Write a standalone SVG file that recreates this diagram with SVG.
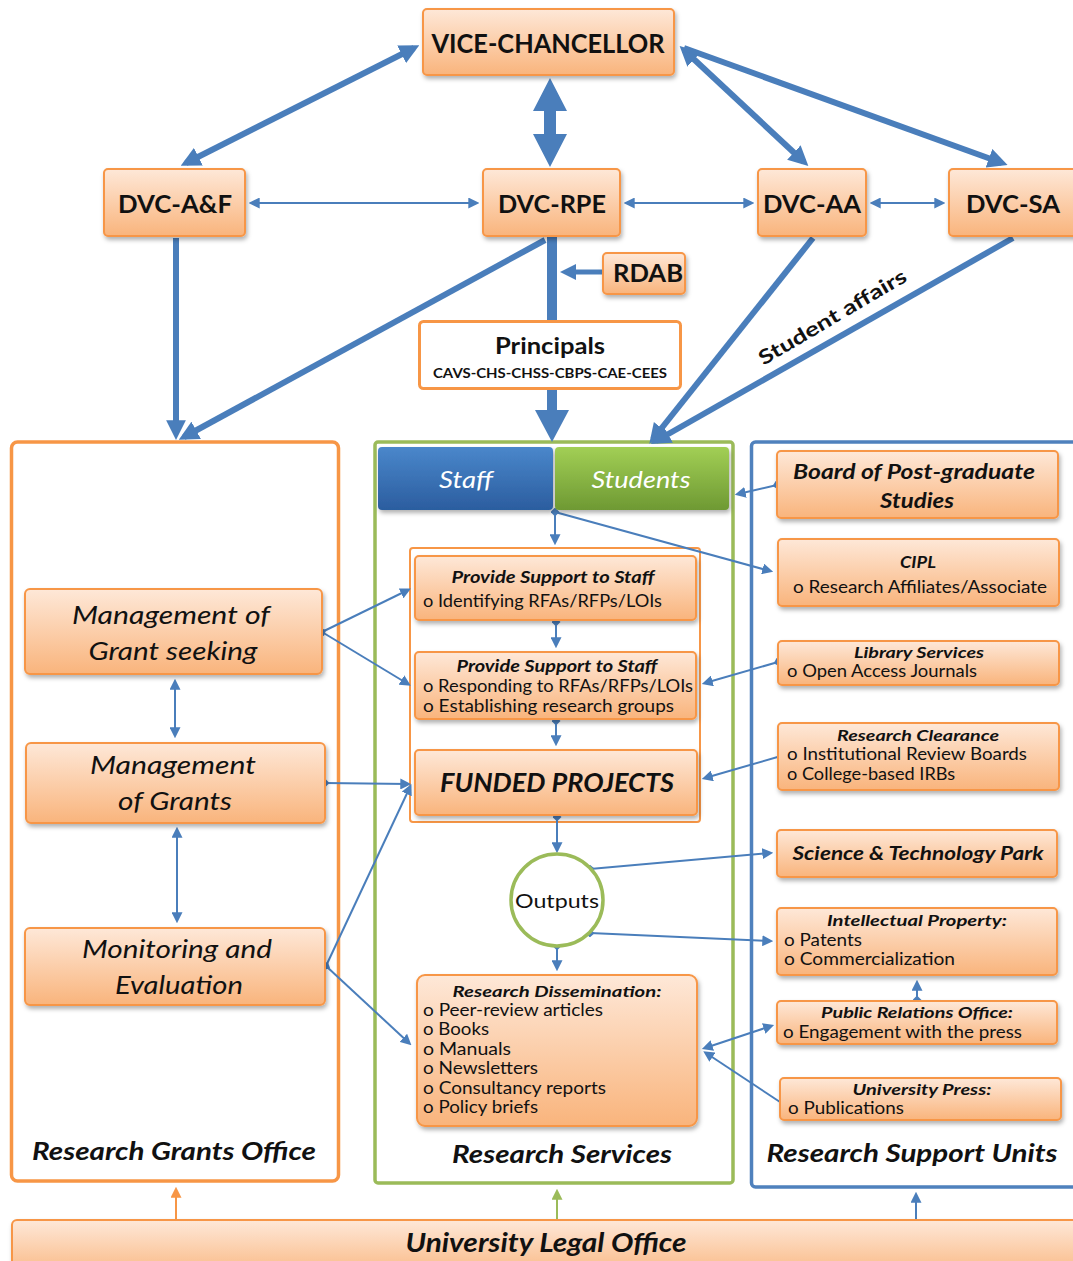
<svg xmlns="http://www.w3.org/2000/svg" width="1073" height="1261" viewBox="0 0 1073 1261">
<defs>
<style>
text{font-family:Lato,"Open Sans","Liberation Sans",sans-serif;fill:#111}
.nd{fill:url(#og);stroke:#f79646;stroke-width:2;filter:url(#sh)}
.b{font-weight:bold}
.bi{font-weight:bold;font-style:italic}
.i{font-style:italic}
.c{text-anchor:middle}
.tk{stroke:#4a7ebb;stroke-width:6;fill:none}
.tn{stroke:#4a7ebb;stroke-width:2;fill:none}
.ar{marker-end:url(#a)}
.ar2{marker-end:url(#a);marker-start:url(#a)}
.at{marker-end:url(#aT)}
.at2{marker-end:url(#aT);marker-start:url(#aT)}
.dm{marker-start:url(#d)}
</style>
<linearGradient id="og" x1="0" y1="0" x2="0" y2="1"><stop offset="0" stop-color="#fee8d8"/><stop offset="1" stop-color="#f9b47c"/></linearGradient>
<linearGradient id="bg" x1="0" y1="0" x2="0" y2="1"><stop offset="0" stop-color="#4a87cb"/><stop offset="1" stop-color="#2b5d9f"/></linearGradient>
<linearGradient id="gg" x1="0" y1="0" x2="0" y2="1"><stop offset="0" stop-color="#a2cf55"/><stop offset="1" stop-color="#6e9933"/></linearGradient>
<filter id="sh" x="-10%" y="-10%" width="120%" height="130%"><feDropShadow dx="1.5" dy="3" stdDeviation="2" flood-color="#000" flood-opacity="0.3"/></filter>
<marker id="a" viewBox="0 0 10 10" refX="7" refY="5" markerWidth="5.5" markerHeight="5.5" orient="auto-start-reverse" markerUnits="strokeWidth"><path d="M0,0 L10,5 L0,10 z" fill="#4a7ebb"/></marker>
<marker id="aT" viewBox="0 0 10 10" refX="7" refY="5" markerWidth="3.3" markerHeight="3.3" orient="auto-start-reverse" markerUnits="strokeWidth"><path d="M0,0 L10,5 L0,10 z" fill="#4a7ebb"/></marker>
<marker id="d" viewBox="0 0 10 10" refX="5" refY="5" markerWidth="4.5" markerHeight="4.5" orient="auto" markerUnits="strokeWidth"><path d="M5,0 L10,5 L5,10 L0,5 z" fill="#4a7ebb"/></marker>
<marker id="ao" viewBox="0 0 10 10" refX="7" refY="5" markerWidth="5.5" markerHeight="5.5" orient="auto" markerUnits="strokeWidth"><path d="M0,0 L10,5 L0,10 z" fill="#f79646"/></marker>
<marker id="ag" viewBox="0 0 10 10" refX="7" refY="5" markerWidth="5.5" markerHeight="5.5" orient="auto" markerUnits="strokeWidth"><path d="M0,0 L10,5 L0,10 z" fill="#9bbb59"/></marker>
</defs>

<g id="containers">
<rect id="rgo" x="11.5" y="442" width="327" height="739" rx="6" fill="#fff" stroke="#f79646" stroke-width="3.5"/>
<rect id="rs" x="375" y="442" width="358" height="741" rx="3" fill="#fff" stroke="#9bbb59" stroke-width="3.5"/>
<rect id="rsu" x="751.5" y="442" width="330" height="745" rx="4" fill="#fff" stroke="#4f81bd" stroke-width="3.5"/>
<rect id="support-group" x="410" y="548" width="290" height="274" rx="3" fill="none" stroke="#f79646" stroke-width="2"/>
<text class="bi c" x="174" y="1160" font-size="25" textLength="284" lengthAdjust="spacingAndGlyphs">Research Grants Office</text>
<text class="bi c" x="562" y="1163" font-size="25" textLength="220" lengthAdjust="spacingAndGlyphs">Research Services</text>
<text class="bi c" x="912" y="1162" font-size="25" textLength="291" lengthAdjust="spacingAndGlyphs">Research Support Units</text>
</g>

<g id="connectors">
<path d="M550,78 L567,111 L556,111 L556,134 L567,134 L550,167 L533,134 L544,134 L544,111 L533,111 Z" fill="#4a7ebb"/>
<line class="tk at2" x1="414" y1="48" x2="186" y2="163"/>
<line class="tk at2" x1="684" y1="50" x2="804" y2="162"/>
<line class="tk" x1="684" y1="48" x2="1002" y2="163" style="marker-end:url(#aT)"/>
<line class="tn ar2" x1="252" y1="203" x2="476" y2="203"/>
<line class="tn ar2" x1="627" y1="203" x2="751" y2="203"/>
<line class="tn ar2" x1="873" y1="203" x2="942" y2="203"/>
<line class="tk at" x1="176" y1="238" x2="176" y2="434"/>
<line class="tk at" x1="545" y1="240" x2="184" y2="437"/>
<rect x="547" y="237" width="10" height="84" fill="#4a7ebb"/>
<line x1="603" y1="272" x2="572" y2="272" stroke="#4a7ebb" stroke-width="5"/>
<path d="M560,272 L576,264 L576,280 Z" fill="#4a7ebb"/>
<path d="M547,390 L557,390 L557,410 L569,410 L552,442 L535,410 L547,410 Z" fill="#4a7ebb"/>
<line class="tk at" x1="813" y1="238" x2="653" y2="439"/>
<line class="tk at" x1="1013" y1="238" x2="656" y2="441"/>
<line class="tn ar" x1="777" y1="485" x2="738" y2="494" style="marker-start:url(#d)"/>
<line class="tn ar dm" x1="555" y1="512" x2="555" y2="542"/>
<line class="tn ar" x1="555" y1="512" x2="770" y2="571"/>
<line class="tn ar dm" x1="556" y1="622" x2="556" y2="645"/>
<line class="tn ar dm" x1="556" y1="721" x2="556" y2="743"/>
<line class="tn ar dm" x1="557" y1="817" x2="557" y2="850"/>
<line class="tn ar dm" x1="557" y1="946" x2="557" y2="968"/>
<line class="tn ar dm" x1="590" y1="869" x2="770" y2="853"/>
<line class="tn ar dm" x1="590" y1="933" x2="770" y2="941"/>
<line class="tn ar dm" x1="322" y1="632" x2="408" y2="590"/>
<line class="tn ar" x1="322" y1="632" x2="408" y2="684"/>
<line class="tn ar2" x1="175" y1="682" x2="175" y2="735"/>
<line class="tn ar2" x1="177" y1="830" x2="177" y2="920"/>
<line class="tn ar dm" x1="325" y1="783" x2="408" y2="784"/>
<line class="tn ar dm" x1="326" y1="966" x2="410" y2="787"/>
<line class="tn ar" x1="326" y1="966" x2="409" y2="1043"/>
<line class="tn ar dm" x1="778" y1="662" x2="705" y2="683"/>
<line class="tn ar dm" x1="781" y1="756" x2="705" y2="778"/>
<line class="tn ar2" x1="705" y1="1048" x2="771" y2="1026"/>
<line class="tn ar" x1="780" y1="1102" x2="706" y2="1053"/>
<line class="tn ar dm" x1="917" y1="1000" x2="917" y2="983"/>
<line x1="176" y1="1220" x2="176" y2="1190" stroke="#f79646" stroke-width="2" marker-end="url(#ao)"/>
<line x1="557" y1="1220" x2="557" y2="1192" stroke="#9bbb59" stroke-width="2" marker-end="url(#ag)"/>
<line class="tn ar" x1="916" y1="1220" x2="916" y2="1195"/>
<text class="b c" x="836" y="323" font-size="20" textLength="168" lengthAdjust="spacingAndGlyphs" transform="rotate(-30.5 836 323)">Student affairs</text>
</g>

<g id="vc"><rect class="nd" x="423" y="9" width="251" height="66" rx="4"/><text class="b c" x="548" y="53" font-size="27" textLength="233" lengthAdjust="spacingAndGlyphs">VICE-CHANCELLOR</text></g>
<g id="dvc-af"><rect class="nd" x="104" y="169" width="141" height="67" rx="4"/><text class="b c" x="175" y="213" font-size="25" textLength="114" lengthAdjust="spacingAndGlyphs">DVC-A&amp;F</text></g>
<g id="dvc-rpe"><rect class="nd" x="483" y="169" width="137" height="67" rx="4"/><text class="b c" x="552" y="213" font-size="25" textLength="108" lengthAdjust="spacingAndGlyphs">DVC-RPE</text></g>
<g id="dvc-aa"><rect class="nd" x="758" y="169" width="108" height="67" rx="4"/><text class="b c" x="812" y="213" font-size="25" textLength="98" lengthAdjust="spacingAndGlyphs">DVC-AA</text></g>
<g id="dvc-sa"><rect class="nd" x="949" y="169" width="130" height="67" rx="4"/><text class="b c" x="1013" y="213" font-size="25" textLength="94" lengthAdjust="spacingAndGlyphs">DVC-SA</text></g>
<g id="rdab"><rect class="nd" x="603" y="253" width="82" height="41" rx="4"/><text class="b c" x="648" y="282" font-size="24" textLength="70" lengthAdjust="spacingAndGlyphs">RDAB</text></g>
<g id="principals"><rect x="419.5" y="321.5" width="261" height="67" rx="4" fill="#fff" stroke="#f79646" stroke-width="3"/><text class="b c" x="550" y="354" font-size="23" textLength="110" lengthAdjust="spacingAndGlyphs">Principals</text><text class="b c" x="550" y="378" font-size="13" textLength="234" lengthAdjust="spacingAndGlyphs">CAVS-CHS-CHSS-CBPS-CAE-CEES</text></g>

<g id="staff"><rect x="378" y="447" width="175" height="63" rx="4" fill="url(#bg)" filter="url(#sh)"/><text class="i c" x="466" y="488" font-size="24" textLength="54" lengthAdjust="spacingAndGlyphs" style="fill:#fff">Staff</text></g>
<g id="students"><rect x="555" y="447" width="174" height="63" rx="4" fill="url(#gg)" filter="url(#sh)"/><text class="i c" x="641" y="488" font-size="24" textLength="99" lengthAdjust="spacingAndGlyphs" style="fill:#fff">Students</text></g>

<g id="support1"><rect class="nd" x="415" y="556" width="281" height="64" rx="4"/><text class="bi c" x="553" y="583" font-size="17" textLength="203" lengthAdjust="spacingAndGlyphs">Provide Support to Staff</text><text x="423" y="607" font-size="17" textLength="239" lengthAdjust="spacingAndGlyphs">o Identifying RFAs/RFPs/LOIs</text></g>
<g id="support2"><rect class="nd" x="415" y="652" width="281" height="67" rx="4"/><text class="bi c" x="557" y="672" font-size="17" textLength="201" lengthAdjust="spacingAndGlyphs">Provide Support to Staff</text><text x="423" y="692" font-size="17" textLength="270" lengthAdjust="spacingAndGlyphs">o Responding to RFAs/RFPs/LOIs</text><text x="423" y="712" font-size="17" textLength="251" lengthAdjust="spacingAndGlyphs">o Establishing research groups</text></g>
<g id="funded"><rect class="nd" x="415" y="750" width="282" height="65" rx="4"/><text class="bi c" x="557" y="792" font-size="26" textLength="234" lengthAdjust="spacingAndGlyphs">FUNDED PROJECTS</text></g>
<g id="outputs"><circle cx="557" cy="900" r="46" fill="#fff" stroke="#9bbb59" stroke-width="3.5"/><text class="c" x="557" y="908" font-size="20" textLength="84" lengthAdjust="spacingAndGlyphs">Outputs</text></g>
<g id="dissemination"><rect class="nd" x="417" y="975" width="280" height="151" rx="8"/><text class="bi c" x="557" y="997" font-size="16" textLength="209" lengthAdjust="spacingAndGlyphs">Research Dissemination:</text>
<text x="423" y="1016" font-size="17" textLength="180" lengthAdjust="spacingAndGlyphs">o Peer-review articles</text><text x="423" y="1035" font-size="17" textLength="66" lengthAdjust="spacingAndGlyphs">o Books</text><text x="423" y="1055" font-size="17" textLength="88" lengthAdjust="spacingAndGlyphs">o Manuals</text><text x="423" y="1074" font-size="17" textLength="115" lengthAdjust="spacingAndGlyphs">o Newsletters</text><text x="423" y="1094" font-size="17" textLength="183" lengthAdjust="spacingAndGlyphs">o Consultancy reports</text><text x="423" y="1113" font-size="17" textLength="115" lengthAdjust="spacingAndGlyphs">o Policy briefs</text></g>

<g id="grant-seeking"><rect class="nd" x="25" y="589" width="297" height="85" rx="5"/><text class="i c" x="171" y="624" font-size="26" textLength="198" lengthAdjust="spacingAndGlyphs">Management of</text><text class="i c" x="173" y="660" font-size="26" textLength="169" lengthAdjust="spacingAndGlyphs">Grant seeking</text></g>
<g id="grants"><rect class="nd" x="26" y="743" width="299" height="80" rx="5"/><text class="i c" x="173" y="774" font-size="26" textLength="166" lengthAdjust="spacingAndGlyphs">Management</text><text class="i c" x="175" y="810" font-size="26" textLength="114" lengthAdjust="spacingAndGlyphs">of Grants</text></g>
<g id="me"><rect class="nd" x="25" y="928" width="300" height="77" rx="5"/><text class="i c" x="177" y="958" font-size="26" textLength="190" lengthAdjust="spacingAndGlyphs">Monitoring and</text><text class="i c" x="179" y="994" font-size="26" textLength="128" lengthAdjust="spacingAndGlyphs">Evaluation</text></g>

<g id="bpgs"><rect class="nd" x="777" y="451" width="281" height="67" rx="4"/><text class="bi c" x="914" y="479" font-size="21" textLength="242" lengthAdjust="spacingAndGlyphs">Board of Post-graduate</text><text class="bi c" x="917" y="508" font-size="21" textLength="74" lengthAdjust="spacingAndGlyphs">Studies</text></g>
<g id="cipl"><rect class="nd" x="778" y="539" width="281" height="67" rx="4"/><text class="bi c" x="918" y="568" font-size="17" textLength="36" lengthAdjust="spacingAndGlyphs">CIPL</text><text x="793" y="593" font-size="17" textLength="254" lengthAdjust="spacingAndGlyphs">o Research Affiliates/Associate</text></g>
<g id="library"><rect class="nd" x="778" y="641" width="281" height="44" rx="4"/><text class="bi c" x="919" y="658" font-size="16" textLength="130" lengthAdjust="spacingAndGlyphs">Library Services</text><text x="787" y="677" font-size="17" textLength="190" lengthAdjust="spacingAndGlyphs">o Open Access Journals</text></g>
<g id="clearance"><rect class="nd" x="778" y="723" width="281" height="67" rx="4"/><text class="bi c" x="918" y="741" font-size="16" textLength="162" lengthAdjust="spacingAndGlyphs">Research Clearance</text><text x="787" y="760" font-size="17" textLength="240" lengthAdjust="spacingAndGlyphs">o Institutional Review Boards</text><text x="787" y="780" font-size="17" textLength="168" lengthAdjust="spacingAndGlyphs">o College-based IRBs</text></g>
<g id="stp"><rect class="nd" x="777" y="830" width="280" height="47" rx="4"/><text class="bi c" x="918" y="860" font-size="19" textLength="251" lengthAdjust="spacingAndGlyphs">Science &amp; Technology Park</text></g>
<g id="ip"><rect class="nd" x="777" y="908" width="280" height="67" rx="4"/><text class="bi c" x="917" y="926" font-size="16" textLength="180" lengthAdjust="spacingAndGlyphs">Intellectual Property:</text><text x="784" y="946" font-size="17" textLength="78" lengthAdjust="spacingAndGlyphs">o Patents</text><text x="784" y="965" font-size="17" textLength="171" lengthAdjust="spacingAndGlyphs">o Commercialization</text></g>
<g id="pr"><rect class="nd" x="777" y="1001" width="280" height="43" rx="4"/><text class="bi c" x="917" y="1018" font-size="16" textLength="192" lengthAdjust="spacingAndGlyphs">Public Relations Office:</text><text x="783" y="1038" font-size="17" textLength="239" lengthAdjust="spacingAndGlyphs">o Engagement with the press</text></g>
<g id="press"><rect class="nd" x="780" y="1078" width="281" height="42" rx="4"/><text class="bi c" x="922" y="1095" font-size="16" textLength="139" lengthAdjust="spacingAndGlyphs">University Press:</text><text x="788" y="1114" font-size="17" textLength="116" lengthAdjust="spacingAndGlyphs">o Publications</text></g>

<g id="legal"><rect class="nd" x="12" y="1220" width="1075" height="60" rx="5"/><text class="bi c" x="546" y="1252" font-size="26" textLength="281" lengthAdjust="spacingAndGlyphs">University Legal Office</text></g>
</svg>
